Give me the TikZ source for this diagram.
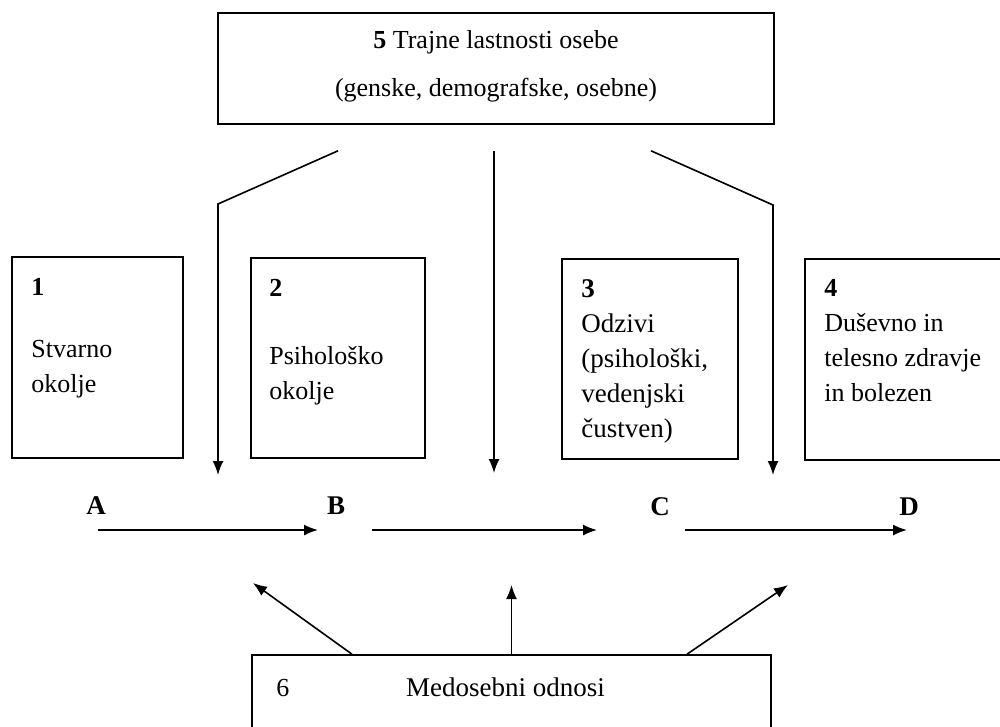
\documentclass[tikz,border=0pt]{standalone}
\usepackage{fontspec}
\setmainfont{Liberation Serif}
\usepackage{tikz}
\usetikzlibrary{positioning}
\usetikzlibrary{arrows.meta}

\begin{document}
\begin{tikzpicture}[x=1pt, y=-1pt,
  box/.style={draw, rectangle, line width=1.6pt, inner sep=0pt},
  txt/.style={anchor=north west, inner sep=0pt, align=left, font=\fontsize{26}{35}\selectfont},
  lbl/.style={inner sep=0pt, font=\fontsize{27}{30}\selectfont\bfseries},
  arr/.style={-{Latex[length=14pt,width=11pt]}, line width=1.6pt}]
  \clip (0,0) rectangle (1000,726);
  % Boxes
  \node [box, minimum width=556pt, minimum height=111pt] (b5) at (496,68.5) {};
  \node [box, minimum width=171pt, minimum height=201pt] (b1) at (97.5,357.5) {};
  \node [box, minimum width=174pt, minimum height=200pt] (b2) at (338,358) {};
  \node [box, minimum width=176pt, minimum height=200pt] (b3) at (650,359) {};
  \node [box, minimum width=220pt, minimum height=201pt] (b4) at (915,359.5) {};
  \node [box, minimum width=519pt, minimum height=110pt] (b6) at (511.5,710) {};
  % Texts
  \node [txt, anchor=north, align=center] (t5) at ([shift={(0,18)}]b5.north)
    {\textbf{5} Trajne lastnosti osebe\\[13pt](genske, demografske, osebne)};
  \node [txt] (t1) at ([shift={(20,22)}]b1.north west) {\textbf{1}\\[27pt]Stvarno\\okolje};
  \node [txt] (t2) at ([shift={(19,22)}]b2.north west) {\textbf{2}\\[33pt]Psihološko\\okolje};
  \node [txt, font=\fontsize{27}{35}\selectfont] (t3) at ([shift={(20,21)}]b3.north west) {\textbf{3}\\Odzivi\\(psihološki,\\vedenjski\\čustven)};
  \node [txt] (t4) at ([shift={(20,21)}]b4.north west) {\textbf{4}\\Duševno in\\telesno zdravje\\in bolezen};
  \node [txt] (n6) at ([shift={(25,25)}]b6.north west) {6};
  \node [txt, anchor=base, font=\fontsize{27}{35}\selectfont] (t6) at ([shift={(-6,42)}]b6.north) {Medosebni odnosi};
  % Labels
  \node [lbl] (A) at (96,506) {A};
  \node [lbl] (B) at (336,506) {B};
  \node [lbl] (C) at (660,507) {C};
  \node [lbl] (D) at (909,507) {D};
  % Free ends
  \coordinate (d1) at (218,475);
  \coordinate (d2) at (494,473);
  \coordinate (d3) at (773,475);
  \coordinate (u1) at (253,583);
  \coordinate (u2) at (511.5,585);
  \coordinate (u3) at (788,585);
  % Arrows
  \draw [arr] ([shift={(2,24)}]A.center) -- ([shift={(-18,24)}]B.center);
  \draw [arr] ([shift={(36,24)}]B.center) -- ([shift={(-63,23)}]C.center);
  \draw [arr] ([shift={(25,23)}]C.center) -- ([shift={(-2,23)}]D.center);
  \draw [arr] ([shift={(-158,26)}]b5.south) -- (218,204) -- (d1);
  \draw [arr] ([shift={(-2,26)}]b5.south) -- (d2);
  \draw [arr] ([shift={(155,26)}]b5.south) -- (773,205) -- (d3);
  \draw [arr] ([shift={(-159.5,0)}]b6.north) -- (u1);
  \draw [arr] (b6.north) -- (u2);
  \draw [arr] ([shift={(175.5,0)}]b6.north) -- (u3);
\end{tikzpicture}
\end{document}
